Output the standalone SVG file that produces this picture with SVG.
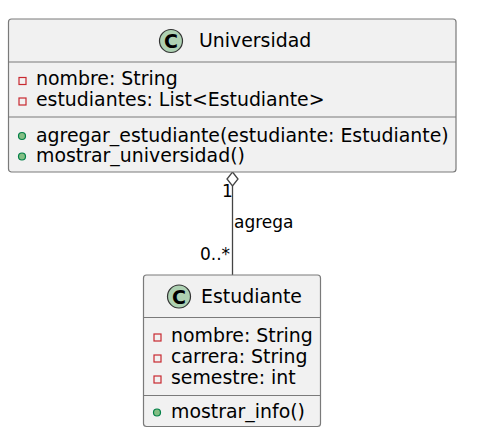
<svg xmlns="http://www.w3.org/2000/svg" width="482" height="434" viewBox="0 0 482 434">
<style>
text{font-family:"DejaVu Sans","Liberation Sans",sans-serif;fill:#000}
.box{fill:#F1F1F1;stroke:#7a7a7a;stroke-width:1.2}
.div{stroke:#7a7a7a;stroke-width:1.2}
.ci{fill:#ADD1B2;stroke:#333;stroke-width:1.2}
.cl{font-size:19px;font-weight:bold}
.t{font-size:18.9px}
.m{font-size:18.9px}
.priv{fill:none;stroke:#C82930;stroke-width:1.2}
.pub{fill:#84BE84;stroke:#038048;stroke-width:1.2}
.lbl{font-size:17px}
.edge{stroke:#444;stroke-width:1.3;fill:none}
</style>
<rect width="482" height="434" fill="#fff"/>
<g id="connectors">
<line class="edge" x1="232.5" y1="186" x2="232.5" y2="275"/>
<polygon class="edge" points="232.5,172 238,179 232.5,186 227,179" style="fill:#fff"/>
<text class="lbl" x="222" y="197">1</text>
<text class="lbl" x="234" y="228">agrega</text>
<text class="lbl" x="200" y="260">0..*</text>
</g>
<g id="Universidad">
<rect class="box" x="8.5" y="19" width="447.5" height="153" rx="3"/>
<line class="div" x1="8.5" y1="62" x2="456" y2="62"/>
<line class="div" x1="8.5" y1="117" x2="456" y2="117"/>
<circle class="ci" cx="171" cy="41" r="11.5"/>
<text class="cl" x="171" y="48" text-anchor="middle">C</text>
<text class="t" x="199" y="47">Universidad</text>
<rect class="priv" x="19" y="77.5" width="7" height="7"/>
<text class="m" x="36" y="85">nombre: String</text>
<rect class="priv" x="19" y="98" width="7" height="7"/>
<text class="m" x="36" y="105.5">estudiantes: List&lt;Estudiante&gt;</text>
<circle class="pub" cx="22" cy="136" r="3.5"/>
<text class="m" x="36" y="141.5">agregar_estudiante(estudiante: Estudiante)</text>
<circle class="pub" cx="22" cy="156.5" r="3.5"/>
<text class="m" x="36" y="162">mostrar_universidad()</text>
</g>
<g id="Estudiante">
<rect class="box" x="143.5" y="275" width="177" height="151.5" rx="3"/>
<line class="div" x1="143.5" y1="317.5" x2="320.5" y2="317.5"/>
<line class="div" x1="143.5" y1="395.5" x2="320.5" y2="395.5"/>
<circle class="ci" cx="179" cy="296.5" r="11.5"/>
<text class="cl" x="179" y="303.5" text-anchor="middle">C</text>
<text class="t" x="201" y="303">Estudiante</text>
<rect class="priv" x="154" y="334" width="7" height="7"/>
<text class="m" x="171" y="341.5">nombre: String</text>
<rect class="priv" x="154" y="355" width="7" height="7"/>
<text class="m" x="171" y="362.5">carrera: String</text>
<rect class="priv" x="154" y="376" width="7" height="7"/>
<text class="m" x="171" y="383.5">semestre: int</text>
<circle class="pub" cx="157" cy="412.5" r="3.5"/>
<text class="m" x="171" y="418">mostrar_info()</text>
</g>
</svg>
